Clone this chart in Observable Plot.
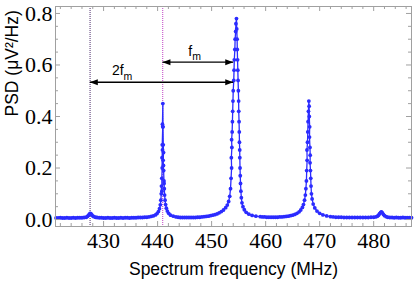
<!DOCTYPE html>
<html><head><meta charset="utf-8">
<script src="https://cdn.jsdelivr.net/npm/d3@7"></script>
<script src="https://cdn.jsdelivr.net/npm/@observablehq/plot@0.6"></script>
<style>body{margin:0;background:#fff}#chart{width:415px;height:286px}</style>
</head><body><div id="chart"></div>
<script>
// [frequency MHz, PSD µV²/Hz]
const base1 = [[421.2,.006],[421.6,.006],[422.0,.007],[422.4,.006],[422.8,.006],[423.2,.007],[423.6,.006],[424.0,.006],[424.4,.007],[424.8,.006],[425.2,.007],[425.6,.007],[426.0,.007]];
const peakA = [[426.4,.008],[426.8,.009],[427.0,.012],[427.2,.016],[427.35,.020],[427.5,.024],[427.65,.023],[427.8,.019],[428.0,.014],[428.2,.011],[428.5,.009],[428.8,.008]];
const base2 = [[429.2,.007],[429.6,.007],[430.0,.006],[430.4,.006],[430.8,.007],[431.2,.006],[431.6,.006],[432.0,.007],[432.4,.006],[432.8,.006],[433.2,.007],[433.6,.006],[434.0,.007],[434.4,.007],[434.8,.006],[435.2,.007],[435.6,.007],[436.0,.007],[436.4,.008],[436.8,.008],[437.2,.008],[437.6,.009]];
const peakB = [[438.0,.009],[438.4,.010],[438.8,.012],[439.2,.014],[439.6,.018],[439.9,.023],[440.15,.031],[440.35,.042],[440.5,.057],[440.6,.075],[440.68,.10],[440.72,.13],[440.8,.11],[440.78,.16],[440.85,.20],[440.82,.24],[440.9,.27],[440.86,.29],[440.95,.36],[440.9,.37],[440.97,.45],[441.0,.36],[441.05,.29],[441.1,.26],[441.03,.23],[441.12,.19],[441.08,.21],[441.18,.15],[441.24,.12],[441.2,.14],[441.3,.095],[441.38,.075],[441.48,.058],[441.62,.044],[441.8,.033],[442.05,.024],[442.4,.017],[442.9,.013],[443.4,.010]];
const base3 = [[443.8,.009],[444.2,.008],[444.6,.008],[445.0,.008],[445.4,.008],[445.8,.008],[446.2,.008],[446.6,.008],[447.0,.008],[447.4,.009],[447.8,.009],[448.2,.010],[448.6,.011]];
const peakC = [[449.0,.012],[449.4,.013],[449.8,.015],[450.2,.017],[450.6,.019],[451.0,.022],[451.4,.026],[451.8,.031],[452.2,.037],[452.6,.046],[452.9,.056],[453.15,.07],[453.35,.09],[453.5,.12],[453.6,.16],[453.7,.20],[453.65,.24],[453.75,.28],[453.7,.31],[453.8,.34],[453.85,.38],[453.9,.42],[453.95,.46],[454.0,.50],[454.1,.54],[454.15,.58],[454.2,.62],[454.3,.66],[454.35,.70],[454.45,.73],[454.5,.76],[454.6,.78],[454.65,.74],[454.72,.70],[454.75,.66],[454.8,.62],[454.85,.58],[454.9,.54],[454.95,.50],[455.0,.46],[455.02,.42],[455.08,.38],[455.12,.34],[455.15,.30],[455.2,.27],[455.22,.24],[455.26,.20],[455.3,.17],[455.35,.14],[455.42,.11],[455.5,.085],[455.62,.065],[455.8,.05],[456.05,.038],[456.4,.028],[456.9,.021],[457.5,.016],[458.2,.013],[459.0,.011]];
const base4 = [[459.4,.010],[459.8,.010],[460.2,.009],[460.6,.009],[461.0,.009],[461.4,.009],[461.8,.009],[462.2,.009],[462.6,.010],[463.0,.010],[463.4,.011],[463.8,.012]];
const peakD = [[464.2,.013],[464.6,.015],[465.0,.017],[465.4,.02],[465.8,.024],[466.2,.03],[466.5,.037],[466.8,.047],[467.0,.058],[467.2,.075],[467.35,.095],[467.45,.12],[467.55,.15],[467.6,.19],[467.68,.23],[467.65,.27],[467.75,.30],[467.8,.34],[467.85,.38],[467.92,.42],[468.0,.46],[468.05,.44],[468.08,.40],[468.15,.36],[468.12,.32],[468.2,.28],[468.25,.25],[468.22,.22],[468.3,.19],[468.35,.16],[468.4,.13],[468.48,.10],[468.6,.08],[468.8,.06],[469.1,.045],[469.5,.033],[470.0,.024],[470.6,.018],[471.3,.014],[472.0,.011]];
const base5 = [[472.5,.010],[473.0,.009],[473.5,.009],[474.0,.009],[474.5,.008],[475.0,.008],[475.5,.008],[476.0,.008],[476.5,.008],[477.0,.008],[477.5,.008],[478.0,.008],[478.5,.008],[479.0,.008],[479.5,.009],[480.0,.009]];
const peakE = [[480.4,.010],[480.7,.013],[480.9,.017],[481.1,.023],[481.3,.028],[481.45,.030],[481.6,.026],[481.8,.020],[482.0,.015],[482.3,.011],[482.6,.009]];
const base6 = [[483.0,.008],[483.4,.008],[483.8,.007],[484.2,.008],[484.6,.007],[485.0,.007],[485.4,.008],[485.8,.007],[486.2,.007],[486.6,.007],[487.0,.007]];

const xTicks = [430, 440, 450, 460, 470, 480];
const xMinor = [422,424,426,428,432,434,436,438,442,444,446,448,452,454,456,458,462,464,466,468,472,474,476,478,482,484,486];
const yTicks = [0, 0.2, 0.4, 0.6, 0.8];
const yMinor = [0.05,0.1,0.15,0.25,0.3,0.35,0.45,0.5,0.55,0.65,0.7,0.75];
const refLines = [{f: 427.5, color: "#4a2a6a"}, {f: 440.95, color: "#c040c4"}];
const arrows = [{x1: 440.9, x2: 454.0, y: 0.611}, {x1: 427.45, x2: 454.0, y: 0.533}];
const annots = [{x: 446.4, y: 0.654, main: "f", sub: "m"}, {x: 433.7, y: 0.577, main: "2f", sub: "m"}];
const xLabel = "Spectrum frequency (MHz)";
const yLabel = "PSD (μV²/Hz)";

const spectrum = [...base1, ...peakA, ...base2, ...peakB, ...base3, ...peakC, ...base4, ...peakD, ...base5, ...peakE, ...base6]
  .map(([f, p]) => ({f, p}));

const W = 415, H = 286, mL = 55, mR = 4, mT = 6, mB = 60;
const iw = W - mL - mR, ih = H - mT - mB;
const frameCol = "#a0a0a0";
const blue = "#2b2bff";
const headShape = {draw(ctx) { ctx.moveTo(0, 0); ctx.lineTo(-8, -3); ctx.lineTo(-8, 3); ctx.closePath(); }};

const chart = Plot.plot({
  width: W, height: H,
  marginLeft: mL, marginRight: mR, marginTop: mT, marginBottom: mB,
  x: {domain: [421.1, 487.0]},
  y: {domain: [-0.027, 0.827]},
  style: {background: "#fff", color: "#000"},
  marks: [
    Plot.ruleX(refLines, {x: "f", stroke: "color", strokeWidth: 1, strokeDasharray: "1,1"}),
    Plot.line(spectrum, {x: "f", y: "p", stroke: blue, strokeWidth: 1.3}),
    Plot.dot(spectrum, {x: "f", y: "p", r: 1.9, fill: blue, stroke: "none"}),
    Plot.frame({stroke: frameCol}),
    Plot.tickX(xTicks, {x: d => d, insetTop: ih - 5, stroke: frameCol}),
    Plot.tickX(xMinor, {x: d => d, insetTop: ih - 3, stroke: frameCol}),
    Plot.tickX(xTicks, {x: d => d, insetBottom: ih - 5, stroke: frameCol}),
    Plot.tickX(xMinor, {x: d => d, insetBottom: ih - 3, stroke: frameCol}),
    Plot.tickY(yTicks, {y: d => d, insetRight: iw - 5, stroke: frameCol}),
    Plot.tickY(yMinor, {y: d => d, insetRight: iw - 3, stroke: frameCol}),
    Plot.tickY(yTicks, {y: d => d, insetLeft: iw - 5, stroke: frameCol}),
    Plot.tickY(yMinor, {y: d => d, insetLeft: iw - 3, stroke: frameCol}),
    Plot.axisX(xTicks, {anchor: "bottom", tickSize: 0, tickPadding: 6, fontSize: 22, fontFamily: "Liberation Serif", label: null}),
    Plot.axisY(yTicks, {anchor: "left", tickSize: 0, tickPadding: 3, fontSize: 22, fontFamily: "Liberation Serif", tickFormat: d => d.toFixed(1), label: null}),
    Plot.text([xLabel], {text: d => d, frameAnchor: "bottom", dy: 48, fontSize: 17.5, fontFamily: "Liberation Sans", fill: "#000"}),
    Plot.text([yLabel], {text: d => d, frameAnchor: "left", dx: -43.6, rotate: -90, fontSize: 17.5, fontFamily: "Liberation Sans", fill: "#000"}),
    Plot.link(arrows, {x1: "x1", x2: "x2", y1: "y", y2: "y", stroke: "#000", strokeWidth: 1.3}),
    Plot.dot(arrows, {x: "x2", y: "y", symbol: headShape, r: 1, fill: "#000", stroke: "none"}),
    Plot.dot(arrows, {x: "x1", y: "y", symbol: headShape, r: 1, rotate: 180, fill: "#000", stroke: "none"}),
    Plot.text(annots, {x: "x", y: "y", text: "main", textAnchor: "end", fontSize: 14, fontFamily: "Liberation Sans", fill: "#000"}),
    Plot.text(annots, {x: "x", y: "y", text: "sub", textAnchor: "start", dy: 6, fontSize: 10.5, fontFamily: "Liberation Sans", fill: "#000"})
  ]
});
document.getElementById("chart").appendChild(chart);
</script>
</body></html>
